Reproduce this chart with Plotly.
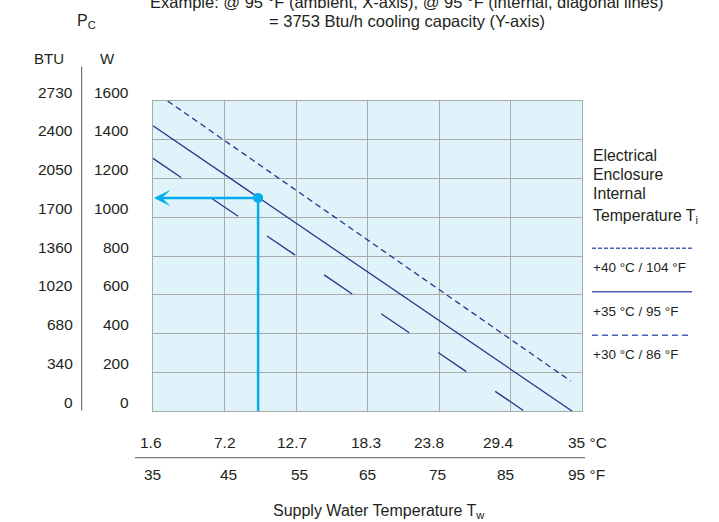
import plotly.graph_objects as go

# ---------------- data ----------------
temp_f = [35, 45, 55, 65, 75, 85, 95]
temp_c_labels = ["1.6", "7.2", "12.7", "18.3", "23.8", "29.4", "35 °C"]
temp_f_labels = ["35", "45", "55", "65", "75", "85", "95 °F"]
power_w = [0, 200, 400, 600, 800, 1000, 1200, 1400, 1600]
power_btu_labels = ["0", "340", "680", "1020", "1360", "1700", "2050", "2400", "2730"]

# internal temperature curves (x: supply water °F, y: cooling capacity W)
line40_x = [37.05, 93.4]
line40_y = [1600, 155]
line35_x = [35, 93.6]
line35_y = [1472, 0]
line30_x = [35, 86.9]
line30_y = [1304, 0]

# worked example
example_x = 49.7
example_y = 1100

legend_labels = ["+40 °C / 104 °F", "+35 °C / 95 °F", "+30 °C / 86 °F"]

# ---------------- styling ----------------
NAVY = "#27358a"
LEG = "#4a63b3"
CYAN = "#00aeef"
GRID = "#a9a9a9"
BG = "#e0f2fa"
TXT = "#231f20"
FONT = "Liberation Sans, Arial, Helvetica, sans-serif"

W_PX, H_PX = 719, 522
L, R, T, B = 153, 582, 101, 411


def px_x(p):
    return (p - L) / (R - L)


def px_y(p):
    return (B - p) / (B - T)


fig = go.Figure()

fig.add_trace(go.Scatter(x=line40_x, y=line40_y, mode="lines",
                         line=dict(color=NAVY, width=1.3, dash="6px,4px"),
                         hoverinfo="skip", showlegend=False))
fig.add_trace(go.Scatter(x=line35_x, y=line35_y, mode="lines",
                         line=dict(color=NAVY, width=1.3),
                         hoverinfo="skip", showlegend=False))
fig.add_trace(go.Scatter(x=line30_x, y=line30_y, mode="lines",
                         line=dict(color=NAVY, width=1.3, dash="34px,35px"),
                         hoverinfo="skip", showlegend=False))

# example: vertical line down to axis, horizontal arrow to left axis
fig.add_trace(go.Scatter(x=[example_x, example_x], y=[power_w[0], example_y], mode="lines",
                         line=dict(color=CYAN, width=2.5),
                         hoverinfo="skip", showlegend=False))
fig.add_trace(go.Scatter(x=[example_x], y=[example_y], mode="markers",
                         marker=dict(color=CYAN, size=10),
                         hoverinfo="skip", showlegend=False))

annotations = []
annotations.append(dict(x=temp_f[0], y=example_y, ax=example_x, ay=example_y,
                        xref="x", yref="y", axref="x", ayref="y", text="",
                        showarrow=True, arrowhead=3, arrowsize=1.1, arrowwidth=2.5,
                        arrowcolor=CYAN, standoff=1))

# y tick labels (W and BTU)
for w, btu in zip(power_w, power_btu_labels):
    annotations.append(dict(x=px_x(131), y=w, xref="paper", yref="y", text=str(w),
                            xanchor="right", yanchor="middle", yshift=9, showarrow=False,
                            font=dict(size=15.5, color=TXT, family=FONT)))
    annotations.append(dict(x=px_x(75), y=w, xref="paper", yref="y", text=btu,
                            xanchor="right", yanchor="middle", yshift=9, showarrow=False,
                            font=dict(size=15.5, color=TXT, family=FONT)))

# x tick labels (°C above the rule, °F below)
c_shift = [-2, 0, -4, -2, -10, -12]
f_shift = [-1, 4, 3, 0, -2, -5]
for i, (f, cl, fl) in enumerate(zip(temp_f, temp_c_labels, temp_f_labels)):
    last = i == len(temp_f) - 1
    annotations.append(dict(x=f, y=px_y(442), xref="x", yref="paper", text=cl,
                            xanchor="left" if last else "center", yanchor="middle",
                            xshift=-16 if last else c_shift[i], showarrow=False,
                            font=dict(size=15.5, color=TXT, family=FONT)))
    annotations.append(dict(x=f, y=px_y(474), xref="x", yref="paper", text=fl,
                            xanchor="left" if last else "center", yanchor="middle",
                            xshift=-16 if last else f_shift[i], showarrow=False,
                            font=dict(size=15.5, color=TXT, family=FONT)))

# headers / titles
annotations += [
    dict(x=px_x(406), y=px_y(2), xref="paper", yref="paper",
         text="Example: @ 95 °F (ambient, X-axis), @ 95 °F (internal, diagonal lines)",
         showarrow=False, xanchor="center", yanchor="middle",
         font=dict(size=16.5, color=TXT, family=FONT)),
    dict(x=px_x(407), y=px_y(21), xref="paper", yref="paper",
         text="= 3753 Btu/h cooling capacity (Y-axis)",
         showarrow=False, xanchor="center", yanchor="middle",
         font=dict(size=16.5, color=TXT, family=FONT)),
    dict(x=px_x(75), y=px_y(22), xref="paper", yref="paper",
         text="P<sub>C</sub>", showarrow=False, xanchor="left", yanchor="middle",
         font=dict(size=16, color=TXT, family=FONT)),
    dict(x=px_x(49), y=px_y(58.5), xref="paper", yref="paper", text="BTU",
         showarrow=False, xanchor="center", yanchor="middle",
         font=dict(size=15, color=TXT, family=FONT)),
    dict(x=px_x(107.5), y=px_y(58.5), xref="paper", yref="paper", text="W",
         showarrow=False, xanchor="center", yanchor="middle",
         font=dict(size=15, color=TXT, family=FONT)),
    dict(x=px_x(379), y=px_y(512), xref="paper", yref="paper",
         text="Supply Water Temperature T<sub>w</sub>",
         showarrow=False, xanchor="center", yanchor="middle",
         font=dict(size=16, color=TXT, family=FONT)),
]

# legend block on the right
head_lines = ["Electrical", "Enclosure", "Internal", "Temperature T<sub>i</sub>"]
head_y = [155.5, 174.5, 193.7, 216]
for txt, yy in zip(head_lines, head_y):
    annotations.append(dict(x=px_x(591), y=px_y(yy), xref="paper", yref="paper", text=txt,
                            showarrow=False, xanchor="left", yanchor="middle",
                            font=dict(size=15.8, color=TXT, family=FONT)))
leg_text_y = [267.3, 311, 354]
for txt, yy in zip(legend_labels, leg_text_y):
    annotations.append(dict(x=px_x(591), y=px_y(yy), xref="paper", yref="paper", text=txt,
                            showarrow=False, xanchor="left", yanchor="middle",
                            font=dict(size=13.5, color=TXT, family=FONT)))

shapes = []
leg_line_y = [248.3, 291.7, 335.3]
leg_dash = ["4px,2px", "solid", "6px,4px"]
for yy, d in zip(leg_line_y, leg_dash):
    shapes.append(dict(type="line", xref="paper", yref="paper",
                       x0=px_x(592), x1=px_x(692), y0=px_y(yy), y1=px_y(yy),
                       line=dict(color=LEG, width=1.5, dash=d)))
# left vertical rule between BTU and W columns
shapes.append(dict(type="line", xref="paper", yref="paper",
                   x0=px_x(81.7), x1=px_x(81.7), y0=px_y(410.5), y1=px_y(66.7),
                   line=dict(color="#555555", width=1)))
# rule between °C and °F rows
shapes.append(dict(type="line", xref="paper", yref="paper",
                   x0=px_x(135), x1=px_x(585), y0=px_y(457.7), y1=px_y(457.7),
                   line=dict(color="#555555", width=1)))

fig.update_layout(
    width=W_PX, height=H_PX,
    margin=dict(l=L, r=W_PX - R, t=T, b=H_PX - B, autoexpand=False),
    paper_bgcolor="white", plot_bgcolor=BG,
    font=dict(family=FONT, color=TXT),
    showlegend=False, hovermode=False,
    annotations=annotations, shapes=shapes,
    xaxis=dict(range=[temp_f[0], temp_f[-1]], dtick=10, tick0=35, showticklabels=False,
               showgrid=True, gridcolor=GRID, gridwidth=1.3, zeroline=False,
               showline=True, linecolor=GRID, linewidth=1.3, mirror=True, ticks=""),
    yaxis=dict(range=[power_w[0], power_w[-1]], dtick=200, showticklabels=False,
               showgrid=True, gridcolor=GRID, gridwidth=1.3, zeroline=False,
               showline=True, linecolor=GRID, linewidth=1.3, mirror=True, ticks=""),
)

fig.write_html("out.html", config={"displayModeBar": False},
               post_script="document.body.style.margin='0px';")
